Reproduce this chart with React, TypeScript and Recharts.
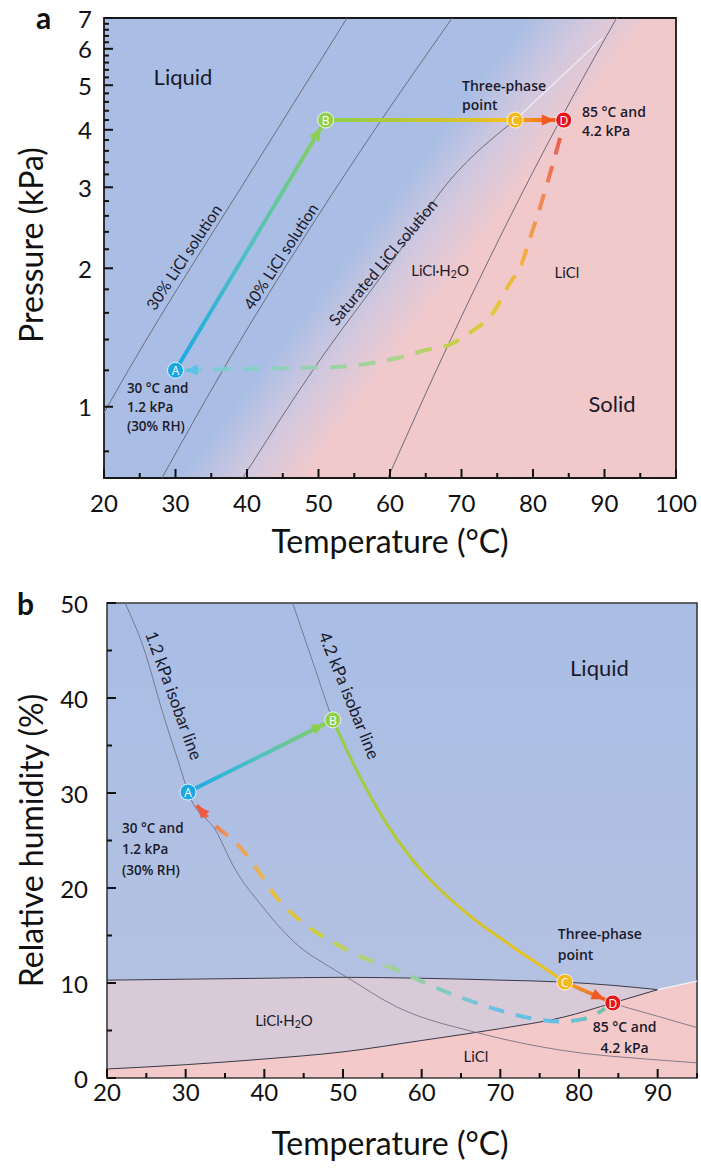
import React from "react";
import {
  ComposedChart,
  Line,
  Area,
  Scatter,
  XAxis,
  YAxis,
  ReferenceArea,
  ReferenceDot,
} from "recharts";

const FONT = "Lato, 'Open Sans', sans-serif";
const NOTE_FONT = "'Open Sans', Lato, sans-serif";

// ---------- panel a : pressure vs temperature ----------
const tempTicksA = [20, 25, 30, 35, 40, 45, 50, 55, 60, 65, 70, 75, 80, 85, 90, 95, 100];
const tempLabelsA = [20, 30, 40, 50, 60, 70, 80, 90, 100];
const pressureTicks = [
  0.8, 1, 1.2, 1.4, 1.6, 1.8, 2, 2.2, 2.4, 2.6, 2.8, 3, 3.2, 3.4, 3.6, 3.8, 4, 4.2, 4.4, 4.6,
  4.8, 5, 5.2, 5.4, 5.6, 5.8, 6, 6.2, 6.4, 6.6, 6.8, 7,
];
const pressureLabels = [1, 2, 3, 4, 5, 6, 7];

const line30 = [
  { t: 20, p: 0.97 },
  { t: 23.4, p: 1.2 },
  { t: 40.7, p: 3.27 },
  { t: 54, p: 7 },
];
const line40 = [
  { t: 28.1, p: 0.7 },
  { t: 36.6, p: 1.2 },
  { t: 54.1, p: 3.27 },
  { t: 68.7, p: 7 },
];
const satLine = [
  { t: 39.4, p: 0.7 },
  { t: 49.2, p: 1.2 },
  { t: 60.3, p: 2.07 },
  { t: 68.4, p: 3.11 },
  { t: 77.5, p: 4.2 },
];
const satLineTop = [
  { t: 77.5, p: 4.2 },
  { t: 89.7, p: 6.33 },
];
const hydrateLine = [
  { t: 59.7, p: 0.7 },
  { t: 68.1, p: 1.36 },
  { t: 83.8, p: 4.2 },
  { t: 91.7, p: 7 },
];

const statesA = [
  { id: "A", t: 30, p: 1.2 },
  { id: "B", t: 51, p: 4.2 },
  { id: "C", t: 77.5, p: 4.2 },
  { id: "D", t: 84.3, p: 4.2 },
];
const returnA = [
  { t: 31.3, p: 1.2 },
  { t: 40.4, p: 1.21 },
  { t: 52, p: 1.22 },
  { t: 61, p: 1.276 },
  { t: 65.2, p: 1.33 },
  { t: 68.1, p: 1.36 },
  { t: 71.2, p: 1.45 },
  { t: 74.4, p: 1.6 },
  { t: 76.8, p: 1.86 },
  { t: 78.2, p: 2.01 },
  { t: 79.6, p: 2.33 },
  { t: 81, p: 2.72 },
  { t: 82.4, p: 3.22 },
  { t: 83.8, p: 3.85 },
];

// ---------- panel b : relative humidity vs temperature ----------
const tempTicksB = [20, 25, 30, 35, 40, 45, 50, 55, 60, 65, 70, 75, 80, 85, 90, 95];
const tempLabelsB = [20, 30, 40, 50, 60, 70, 80, 90];
const rhTicks = [0, 5, 10, 15, 20, 25, 30, 35, 40, 45, 50];
const rhLabels = [0, 10, 20, 30, 40, 50];

const isobar12 = [
  { t: 22.3, rh: 50 },
  { t: 24.6, rh: 45.4 },
  { t: 27.1, rh: 38.4 },
  { t: 29.3, rh: 32.7 },
  { t: 30.3, rh: 30.1 },
  { t: 34, rh: 25.8 },
  { t: 36, rh: 22.4 },
  { t: 39.8, rh: 18 },
  { t: 44.5, rh: 13.8 },
  { t: 48.3, rh: 11.7 },
  { t: 50.5, rh: 10.6 },
  { t: 56.8, rh: 7.5 },
  { t: 67.4, rh: 4.7 },
  { t: 77.9, rh: 2.9 },
  { t: 90, rh: 1.9 },
  { t: 95, rh: 1.6 },
];
const isobar42 = [
  { t: 43.6, rh: 50 },
  { t: 46.2, rh: 43.7 },
  { t: 48.7, rh: 37.7 },
  { t: 50.9, rh: 33.8 },
  { t: 54.7, rh: 27.9 },
  { t: 58.9, rh: 22.9 },
  { t: 65.2, rh: 17.7 },
  { t: 71.6, rh: 13.8 },
  { t: 75.9, rh: 11.4 },
  { t: 78.2, rh: 10.1 },
  { t: 84.3, rh: 7.9 },
  { t: 90, rh: 6.5 },
  { t: 95, rh: 5.3 },
];

const phaseT = [20, 30, 40, 50, 60, 70, 78, 84.3, 90, 95];
const lowerRH = [0.95, 1.4, 2.0, 2.75, 3.95, 5.2, 6.4, 7.9, 9.3, 10.2];
const upperRH = [10.3, 10.4, 10.5, 10.6, 10.5, 10.3, 10.1, 9.75, 9.3];

const statesB = [
  { id: "A", t: 30.3, rh: 30.1 },
  { id: "B", t: 48.7, rh: 37.7 },
  { id: "C", t: 78.2, rh: 10.1 },
  { id: "D", t: 84.3, rh: 7.9 },
];
const returnB = [
  { t: 31.4, rh: 28.7 },
  { t: 33.5, rh: 26.8 },
  { t: 36.9, rh: 24.3 },
  { t: 39.4, rh: 21.6 },
  { t: 41.1, rh: 19.5 },
  { t: 44.5, rh: 16.6 },
  { t: 48.7, rh: 14.3 },
  { t: 52.5, rh: 12.7 },
  { t: 56.8, rh: 11.4 },
  { t: 61, rh: 9.8 },
  { t: 65.2, rh: 8.4 },
  { t: 69.6, rh: 7.2 },
  { t: 73.8, rh: 6.3 },
  { t: 77.5, rh: 5.95 },
  { t: 80.5, rh: 6.2 },
  { t: 83.3, rh: 7.3 },
];

const stateColors: Record<string, string> = {
  A: "#1ba7e1",
  B: "#8fcf4b",
  C: "#f5b91d",
  D: "#e5141d",
};

// derived series
const pathAB_a = [statesA[0], statesA[1]];
const pathBC_a = [statesA[1], statesA[2]];
const pathCD_a = [statesA[2], statesA[3]];
const pathAB_b = [statesB[0], statesB[1]];
const pathBC_b = isobar42.filter((d) => d.t >= statesB[1].t && d.t <= statesB[2].t);
const pathCD_b = [statesB[2], statesB[3]];
const liclBand = phaseT.map((t, i) => ({ t, band: [0, lowerRH[i]] }));
const hydrateBand = upperRH.map((u, i) => ({ t: phaseT[i], band: [lowerRH[i], u] }));
const upperLine = upperRH.map((u, i) => ({ t: phaseT[i], rh: u }));
const lowerLine = lowerRH.slice(0, 9).map((v, i) => ({ t: phaseT[i], rh: v }));
const lowerTail = lowerRH.slice(8).map((v, i) => ({ t: phaseT[i + 8], rh: v }));

// ---------- helpers ----------
const TICK_COLOR = "#111";

// axis ticks: inward mark plus label for the major values
const xTick = (labels: number[], labelDy: number) => (props: any) => {
  const { x, y, payload } = props;
  const major = labels.includes(payload.value);
  return (
    <g>
      <rect x={x - 1} y={y - (major ? 9 : 5)} width={2} height={major ? 9 : 5} fill={TICK_COLOR} />
      {major && (
        <text x={x} y={y + labelDy} textAnchor="middle" dominantBaseline="central" fontFamily={FONT} fontSize={24} fill="#111">
          {payload.value}
        </text>
      )}
    </g>
  );
};

const yTick = (labels: number[], gap: number) => (props: any) => {
  const { x, y, payload } = props;
  const major = labels.includes(payload.value);
  return (
    <g>
      <rect x={x} y={y - 1} width={major ? 9 : 5} height={2} fill={TICK_COLOR} />
      {major && (
        <text x={x - gap} y={y} textAnchor="end" dominantBaseline="central" fontFamily={FONT} fontSize={24} fill="#111">
          {payload.value}
        </text>
      )}
    </g>
  );
};

const AxisTitle = ({ x, y, text, angle = 0 }: { x: number; y: number; text: string; angle?: number }) => (
  <text
    x={x}
    y={y}
    transform={angle ? `rotate(${angle} ${x} ${y})` : undefined}
    textAnchor="middle"
    dominantBaseline="central"
    fontFamily={FONT}
    fontSize={32}
    fill="#111"
  >
    {text}
  </text>
);

type NoteSpec = {
  lines: React.ReactNode[];
  size: number;
  bold?: boolean;
  anchor?: "start" | "middle" | "end";
  angle?: number;
  lh?: number;
};

const noteShape = (n: NoteSpec) => (props: any) => {
  const { cx, cy } = props;
  return (
    <text
      x={cx}
      y={cy}
      transform={n.angle ? `rotate(${n.angle} ${cx} ${cy})` : undefined}
      textAnchor={n.anchor ?? "middle"}
      dominantBaseline="central"
      fontFamily={n.bold ? NOTE_FONT : FONT}
      fontWeight={n.bold ? 600 : 400}
      fontSize={n.size}
      fill="#1a1a2a"
    >
      {n.lines.map((l, i) => (
        <tspan key={i} x={cx} dy={i === 0 ? 0 : n.lh ?? n.size * 1.4}>
          {l}
        </tspan>
      ))}
    </text>
  );
};

const hydrateText = (
  <>
    LiCl·H<tspan dy={4} fontSize="0.7em">2</tspan>
    <tspan dy={-4}>O</tspan>
  </>
);

const StateMarker = (props: any) => {
  const { cx, cy, payload } = props;
  return (
    <g>
      <circle cx={cx} cy={cy} r={8} fill={stateColors[payload.id]} stroke="#fff" strokeWidth={0.8} />
      <text x={cx} y={cy + 0.5} textAnchor="middle" dominantBaseline="central" fontSize={12} fill="#fff" fontFamily={NOTE_FONT}>
        {payload.id}
      </text>
    </g>
  );
};

const Arrow = ({ id, color, back = 0 }: { id: string; color: string; back?: number }) => (
  <marker
    id={id}
    viewBox="0 0 13 11"
    refX={13 + back}
    refY={5.5}
    markerWidth={13}
    markerHeight={11}
    markerUnits="userSpaceOnUse"
    orient="auto-start-reverse"
    style={{ overflow: "visible" }}
  >
    <path d="M0,0 L13,5.5 L0,11 z" fill={color} />
  </marker>
);

const notesA: { t: number; p: number; n: NoteSpec }[] = [
  { t: 31.05, p: 5.24, n: { lines: ["Liquid"], size: 22 } },
  { t: 91.05, p: 1.02, n: { lines: ["Solid"], size: 22 } },
  { t: 67, p: 1.98, n: { lines: [hydrateText], size: 15 } },
  { t: 84.75, p: 1.96, n: { lines: ["LiCl"], size: 15 } },
  { t: 70.07, p: 5.0, n: { lines: ["Three-phase", "point"], size: 14, bold: true, anchor: "start", lh: 19 } },
  { t: 86.85, p: 4.39, n: { lines: ["85 °C and", "4.2 kPa"], size: 14, bold: true, anchor: "start", lh: 19 } },
  { t: 23.2, p: 1.1, n: { lines: ["30 °C and", "1.2 kPa", "(30% RH)"], size: 13.5, bold: true, anchor: "start", lh: 19 } },
  { t: 31.05, p: 2.12, n: { lines: ["30% LiCl solution"], size: 16, angle: -56.5 } },
  { t: 44.6, p: 2.13, n: { lines: ["40% LiCl solution"], size: 16, angle: -57 } },
  { t: 58.9, p: 2.07, n: { lines: ["Saturated LiCl solution"], size: 16, angle: -50 } },
];

const notesB: { t: number; rh: number; n: NoteSpec }[] = [
  { t: 82.6, rh: 43.3, n: { lines: ["Liquid"], size: 22 } },
  { t: 42.5, rh: 6.1, n: { lines: [hydrateText], size: 15 } },
  { t: 66.9, rh: 2.3, n: { lines: ["LiCl"], size: 15 } },
  { t: 77.3, rh: 15.3, n: { lines: ["Three-phase", "point"], size: 14, bold: true, anchor: "start", lh: 21 } },
  { t: 85.8, rh: 5.47, n: { lines: ["85 °C and", "4.2 kPa"], size: 14, bold: true, lh: 21 } },
  { t: 21.9, rh: 26.3, n: { lines: ["30 °C and", "1.2 kPa", "(30% RH)"], size: 13.5, bold: true, anchor: "start", lh: 21 } },
  { t: 28.6, rh: 40.3, n: { lines: ["1.2 kPa isobar line"], size: 17, angle: 70 } },
  { t: 50.9, rh: 40.3, n: { lines: ["4.2 kPa isobar line"], size: 17, angle: 68 } },
];

// plot backgrounds are painted as HTML underneath transparent charts so the axes stay on top
const bgA = "linear-gradient(127deg, #aabee5 0%, #aabee5 46%, #d3c8de 53%, #f2c9cb 60%, #f2c9cb 100%)";
const bgB = "linear-gradient(180deg, #a9bde5 0%, #b6c2e1 100%)";

const PanelA = () => (
  <ComposedChart width={701} height={580} margin={{ top: 18, right: 25, bottom: 0, left: 0 }}>
    <defs>
      <linearGradient id="abA" gradientUnits="userSpaceOnUse" x1={176} y1={370} x2={327} y2={117}>
        <stop offset="0%" stopColor="#1ba9e4" />
        <stop offset="50%" stopColor="#52c2c0" />
        <stop offset="100%" stopColor="#8ccf50" />
      </linearGradient>
      <linearGradient id="bcA" gradientUnits="userSpaceOnUse" x1={327} y1={0} x2={515} y2={0}>
        <stop offset="0%" stopColor="#8ccf4a" />
        <stop offset="100%" stopColor="#f5be1c" />
      </linearGradient>
      <linearGradient id="cdA" gradientUnits="userSpaceOnUse" x1={515} y1={0} x2={563} y2={0}>
        <stop offset="0%" stopColor="#f7a51c" />
        <stop offset="100%" stopColor="#f0561e" />
      </linearGradient>
      <linearGradient id="daA" gradientUnits="userSpaceOnUse" x1={185} y1={370} x2={563} y2={132}>
        <stop offset="0%" stopColor="#74cbe0" />
        <stop offset="22%" stopColor="#96d0b4" />
        <stop offset="42%" stopColor="#a9d48a" />
        <stop offset="53%" stopColor="#c2d14a" />
        <stop offset="65%" stopColor="#e2c93a" />
        <stop offset="76%" stopColor="#f2b441" />
        <stop offset="87%" stopColor="#f08c55" />
        <stop offset="100%" stopColor="#ea5a4f" />
      </linearGradient>
      <Arrow id="arrAB_a" color="#8ccf50" back={9} />
      <Arrow id="arrCD_a" color="#f15a1e" back={9} />
      <Arrow id="arrDA_a" color="#5cc3e6" />
    </defs>
    {[line30, line40, satLine, hydrateLine].map((d, i) => (
      <Line key={i} data={d} dataKey="p" type="monotone" stroke="#6c6c78" strokeWidth={1} dot={false} isAnimationActive={false} />
    ))}
    <Line data={satLineTop} dataKey="p" type="monotone" stroke="#eeeef4" strokeWidth={1.2} dot={false} isAnimationActive={false} />
    {notesA.map((a, i) => (
      <ReferenceDot key={i} x={a.t} y={a.p} r={0} shape={noteShape(a.n)} />
    ))}
    <Line data={returnA} dataKey="p" type="monotone" stroke="url(#daA)" strokeWidth={4} strokeDasharray="17 12" dot={false} markerStart="url(#arrDA_a)" isAnimationActive={false} />
    <Line data={pathAB_a} dataKey="p" type="linear" stroke="url(#abA)" strokeWidth={4} dot={false} markerEnd="url(#arrAB_a)" isAnimationActive={false} />
    <Line data={pathBC_a} dataKey="p" type="linear" stroke="url(#bcA)" strokeWidth={4} dot={false} isAnimationActive={false} />
    <Line data={pathCD_a} dataKey="p" type="linear" stroke="url(#cdA)" strokeWidth={4} dot={false} markerEnd="url(#arrCD_a)" isAnimationActive={false} />
    <Scatter data={statesA} dataKey="p" shape={StateMarker} isAnimationActive={false} />
    <ReferenceArea x1={20} x2={100} y1={0.7} y2={7} fill="none" stroke="#1a1a1a" strokeWidth={1.8} ifOverflow="visible" />
    <XAxis
      type="number"
      dataKey="t"
      domain={[20, 100]}
      ticks={tempTicksA}
      interval={0}
      allowDataOverflow
      height={102}
      tickSize={0}
      tickMargin={0}
      axisLine={false}
      tickLine={false}
      tick={xTick(tempLabelsA, 24)}
      label={({ viewBox }: any) => <AxisTitle x={viewBox.x + viewBox.width / 2} y={viewBox.y + 62} text="Temperature (°C)" />}
    />
    <YAxis
      type="number"
      dataKey="p"
      scale="log"
      domain={[0.7, 7]}
      ticks={pressureTicks}
      interval={0}
      allowDataOverflow
      width={104}
      tickSize={0}
      tickMargin={0}
      axisLine={false}
      tickLine={false}
      tick={yTick(pressureLabels, 12)}
      label={({ viewBox }: any) => <AxisTitle x={30} y={viewBox.y + viewBox.height / 2 - 3} angle={-90} text="Pressure (kPa)" />}
    />
  </ComposedChart>
);

const PanelB = () => (
  <ComposedChart width={701} height={588} margin={{ top: 23, right: 4, bottom: 0, left: 0 }}>
    <defs>
      <linearGradient id="abB" gradientUnits="userSpaceOnUse" x1={188} y1={212} x2={335} y2={140}>
        <stop offset="0%" stopColor="#1ea9e3" />
        <stop offset="50%" stopColor="#52c2c0" />
        <stop offset="100%" stopColor="#8ccf50" />
      </linearGradient>
      <linearGradient id="bcB" gradientUnits="userSpaceOnUse" x1={335} y1={140} x2={565} y2={402}>
        <stop offset="0%" stopColor="#8fcf45" />
        <stop offset="100%" stopColor="#f3bf1a" />
      </linearGradient>
      <linearGradient id="cdB" gradientUnits="userSpaceOnUse" x1={565} y1={402} x2={613} y2={423}>
        <stop offset="0%" stopColor="#f5a020" />
        <stop offset="100%" stopColor="#ef5a22" />
      </linearGradient>
      <linearGradient id="daB" gradientUnits="userSpaceOnUse" x1={197} y1={0} x2={605} y2={0}>
        <stop offset="0%" stopColor="#ea5a45" />
        <stop offset="8%" stopColor="#ef9a5c" />
        <stop offset="18%" stopColor="#e8bc45" />
        <stop offset="30%" stopColor="#c9cf3e" />
        <stop offset="45%" stopColor="#a8d28a" />
        <stop offset="62%" stopColor="#80c9c8" />
        <stop offset="75%" stopColor="#66bfe4" />
        <stop offset="90%" stopColor="#66bfe0" />
        <stop offset="100%" stopColor="#72c3a4" />
      </linearGradient>
      <Arrow id="arrAB_b" color="#8ccf50" back={9} />
      <Arrow id="arrCD_b" color="#ef5a22" back={9} />
      <Arrow id="arrDA_b" color="#ea5a45" />
    </defs>
    <Area data={liclBand} dataKey="band" type="monotone" fill="#f3c9c9" fillOpacity={1} stroke="none" isAnimationActive={false} />
    <Area data={hydrateBand} dataKey="band" type="monotone" fill="#d9cad8" fillOpacity={1} stroke="none" isAnimationActive={false} />
    <Line data={upperLine} dataKey="rh" type="monotone" stroke="#3a3a48" strokeWidth={1} dot={false} isAnimationActive={false} />
    <Line data={lowerLine} dataKey="rh" type="monotone" stroke="#3a3a48" strokeWidth={1} dot={false} isAnimationActive={false} />
    <Line data={lowerTail} dataKey="rh" type="monotone" stroke="#f4f4f8" strokeWidth={1.2} dot={false} isAnimationActive={false} />
    <Line data={isobar12} dataKey="rh" type="monotone" stroke="#6a6a78" strokeWidth={0.8} dot={false} isAnimationActive={false} />
    <Line data={isobar42} dataKey="rh" type="monotone" stroke="#6a6a78" strokeWidth={0.8} dot={false} isAnimationActive={false} />
    {notesB.map((a, i) => (
      <ReferenceDot key={i} x={a.t} y={a.rh} r={0} shape={noteShape(a.n)} />
    ))}
    <Line data={returnB} dataKey="rh" type="monotone" stroke="url(#daB)" strokeWidth={4} strokeDasharray="16 12" dot={false} markerStart="url(#arrDA_b)" isAnimationActive={false} />
    <Line data={pathAB_b} dataKey="rh" type="linear" stroke="url(#abB)" strokeWidth={4} dot={false} markerEnd="url(#arrAB_b)" isAnimationActive={false} />
    <Line data={pathBC_b} dataKey="rh" type="monotone" stroke="url(#bcB)" strokeWidth={3} dot={false} isAnimationActive={false} />
    <Line data={pathCD_b} dataKey="rh" type="linear" stroke="url(#cdB)" strokeWidth={3.5} dot={false} markerEnd="url(#arrCD_b)" isAnimationActive={false} />
    <Scatter data={statesB} dataKey="rh" shape={StateMarker} isAnimationActive={false} />
    <ReferenceArea x1={20} x2={95} y1={0} y2={50} fill="none" stroke="#3a3a3a" strokeWidth={1.6} ifOverflow="visible" />
    <XAxis
      type="number"
      dataKey="t"
      domain={[20, 95]}
      ticks={tempTicksB}
      interval={0}
      allowDataOverflow
      height={90}
      tickSize={0}
      tickMargin={0}
      axisLine={false}
      tickLine={false}
      tick={xTick(tempLabelsB, 13)}
      label={({ viewBox }: any) => <AxisTitle x={viewBox.x + viewBox.width / 2 - 12} y={viewBox.y + 64} text="Temperature (°C)" />}
    />
    <YAxis
      type="number"
      dataKey="rh"
      domain={[0, 50]}
      ticks={rhTicks}
      interval={0}
      allowDataOverflow
      width={107}
      tickSize={0}
      tickMargin={0}
      axisLine={false}
      tickLine={false}
      tick={yTick(rhLabels, 19)}
      label={({ viewBox }: any) => <AxisTitle x={30} y={viewBox.y + viewBox.height / 2} angle={-90} text="Relative humidity (%)" />}
    />
  </ComposedChart>
);

const letterStyle: React.CSSProperties = {
  position: "absolute",
  fontFamily: FONT,
  fontWeight: 700,
  fontSize: 30,
  lineHeight: "30px",
  color: "#111",
};

export default function App() {
  return (
    <div style={{ position: "absolute", left: 0, top: 0, width: 701, height: 1168, background: "#fff" }}>
      <div style={{ position: "absolute", left: 104, top: 18, width: 572, height: 460, background: bgA }} />
      <div style={{ position: "absolute", left: 107, top: 603, width: 590, height: 475, background: bgB }} />
      <div style={{ position: "absolute", left: 0, top: 0 }}>
        <PanelA />
      </div>
      <div style={{ position: "absolute", left: 0, top: 580 }}>
        <PanelB />
      </div>
      <div style={{ ...letterStyle, left: 36, top: 2 }}>a</div>
      <div style={{ ...letterStyle, left: 17, top: 588 }}>b</div>
    </div>
  );
}
